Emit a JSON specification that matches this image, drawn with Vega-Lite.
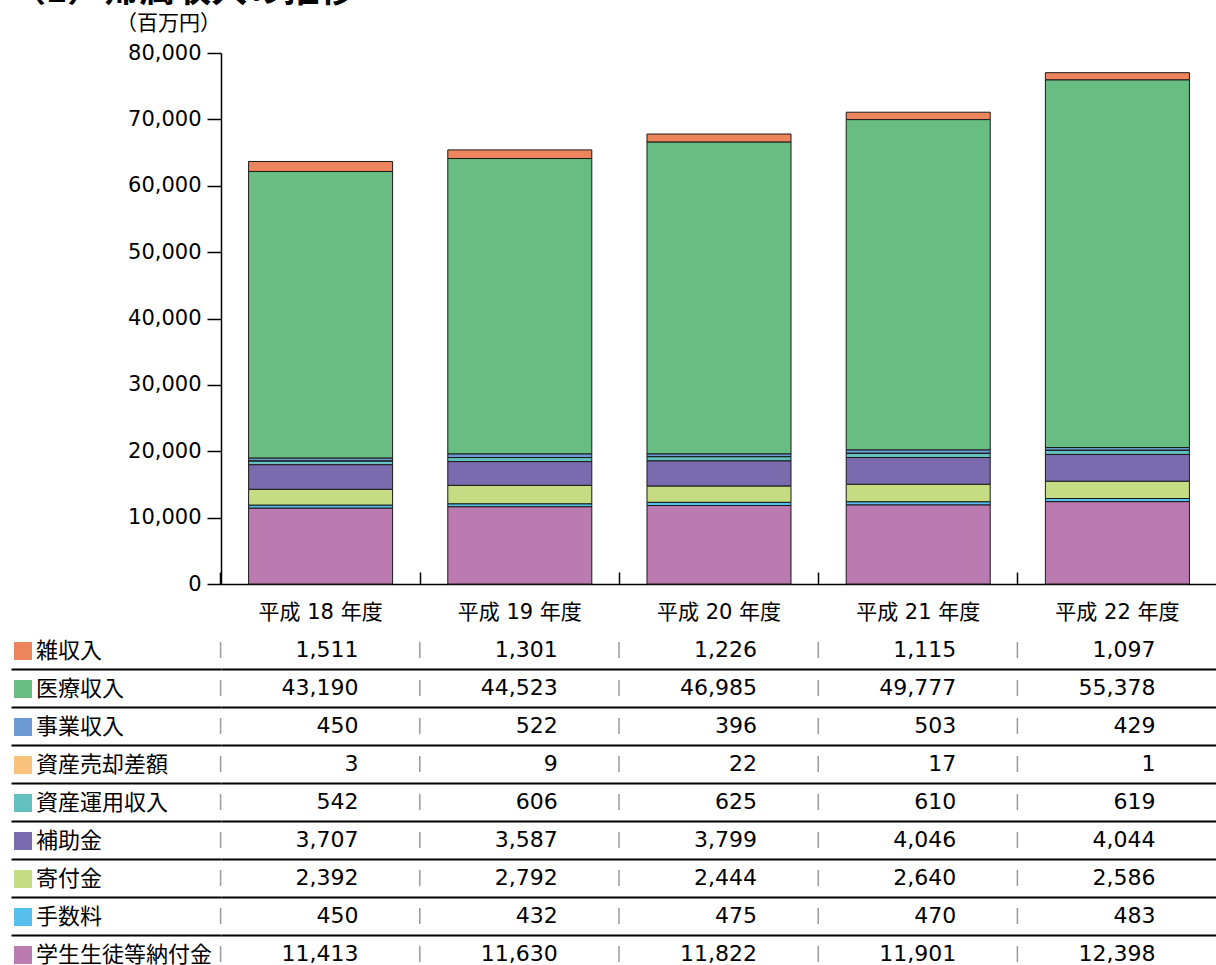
{
  "$schema": "https://vega.github.io/schema/vega-lite/v6.json",
  "background": "white",
  "padding": {"left": 10, "top": -27, "right": 0, "bottom": 0},
  "title": {
    "text": "（1）帰属収入の推移", "anchor": "start", "frame": "bounds",
    "font": "Noto Sans CJK JP", "fontSize": 36, "fontWeight": "bold", "color": "#000",
    "offset": 2
  },
  "config": {
    "font": "DejaVu Sans, Noto Sans CJK JP",
    "view": {"stroke": null},
    "concat": {"spacing": 9},
    "axis": {"labelColor": "#000", "titleColor": "#000", "labelFont": "DejaVu Sans, Noto Sans CJK JP", "titleFont": "Noto Sans CJK JP"}
  },
  "data": {
    "values": [
      {"year": "平成 18 年度", "cat": "雑収入", "rank": 9, "value": 1511},
      {"year": "平成 19 年度", "cat": "雑収入", "rank": 9, "value": 1301},
      {"year": "平成 20 年度", "cat": "雑収入", "rank": 9, "value": 1226},
      {"year": "平成 21 年度", "cat": "雑収入", "rank": 9, "value": 1115},
      {"year": "平成 22 年度", "cat": "雑収入", "rank": 9, "value": 1097},
      {"year": "平成 18 年度", "cat": "医療収入", "rank": 8, "value": 43190},
      {"year": "平成 19 年度", "cat": "医療収入", "rank": 8, "value": 44523},
      {"year": "平成 20 年度", "cat": "医療収入", "rank": 8, "value": 46985},
      {"year": "平成 21 年度", "cat": "医療収入", "rank": 8, "value": 49777},
      {"year": "平成 22 年度", "cat": "医療収入", "rank": 8, "value": 55378},
      {"year": "平成 18 年度", "cat": "事業収入", "rank": 7, "value": 450},
      {"year": "平成 19 年度", "cat": "事業収入", "rank": 7, "value": 522},
      {"year": "平成 20 年度", "cat": "事業収入", "rank": 7, "value": 396},
      {"year": "平成 21 年度", "cat": "事業収入", "rank": 7, "value": 503},
      {"year": "平成 22 年度", "cat": "事業収入", "rank": 7, "value": 429},
      {"year": "平成 18 年度", "cat": "資産売却差額", "rank": 6, "value": 3},
      {"year": "平成 19 年度", "cat": "資産売却差額", "rank": 6, "value": 9},
      {"year": "平成 20 年度", "cat": "資産売却差額", "rank": 6, "value": 22},
      {"year": "平成 21 年度", "cat": "資産売却差額", "rank": 6, "value": 17},
      {"year": "平成 22 年度", "cat": "資産売却差額", "rank": 6, "value": 1},
      {"year": "平成 18 年度", "cat": "資産運用収入", "rank": 5, "value": 542},
      {"year": "平成 19 年度", "cat": "資産運用収入", "rank": 5, "value": 606},
      {"year": "平成 20 年度", "cat": "資産運用収入", "rank": 5, "value": 625},
      {"year": "平成 21 年度", "cat": "資産運用収入", "rank": 5, "value": 610},
      {"year": "平成 22 年度", "cat": "資産運用収入", "rank": 5, "value": 619},
      {"year": "平成 18 年度", "cat": "補助金", "rank": 4, "value": 3707},
      {"year": "平成 19 年度", "cat": "補助金", "rank": 4, "value": 3587},
      {"year": "平成 20 年度", "cat": "補助金", "rank": 4, "value": 3799},
      {"year": "平成 21 年度", "cat": "補助金", "rank": 4, "value": 4046},
      {"year": "平成 22 年度", "cat": "補助金", "rank": 4, "value": 4044},
      {"year": "平成 18 年度", "cat": "寄付金", "rank": 3, "value": 2392},
      {"year": "平成 19 年度", "cat": "寄付金", "rank": 3, "value": 2792},
      {"year": "平成 20 年度", "cat": "寄付金", "rank": 3, "value": 2444},
      {"year": "平成 21 年度", "cat": "寄付金", "rank": 3, "value": 2640},
      {"year": "平成 22 年度", "cat": "寄付金", "rank": 3, "value": 2586},
      {"year": "平成 18 年度", "cat": "手数料", "rank": 2, "value": 450},
      {"year": "平成 19 年度", "cat": "手数料", "rank": 2, "value": 432},
      {"year": "平成 20 年度", "cat": "手数料", "rank": 2, "value": 475},
      {"year": "平成 21 年度", "cat": "手数料", "rank": 2, "value": 470},
      {"year": "平成 22 年度", "cat": "手数料", "rank": 2, "value": 483},
      {"year": "平成 18 年度", "cat": "学生生徒等納付金", "rank": 1, "value": 11413},
      {"year": "平成 19 年度", "cat": "学生生徒等納付金", "rank": 1, "value": 11630},
      {"year": "平成 20 年度", "cat": "学生生徒等納付金", "rank": 1, "value": 11822},
      {"year": "平成 21 年度", "cat": "学生生徒等納付金", "rank": 1, "value": 11901},
      {"year": "平成 22 年度", "cat": "学生生徒等納付金", "rank": 1, "value": 12398}
    ]
  },
  "vconcat": [
    {
      "width": 996,
      "height": 531,
      "mark": {"type": "bar", "stroke": "#1a1a1a", "strokeWidth": 1},
      "encoding": {
        "x": {
          "field": "year", "type": "nominal", "sort": null,
          "scale": {"paddingInner": 0.277, "paddingOuter": 0.1385},
          "axis": {
            "title": null, "labelAngle": 0, "labelFontSize": 21, "labelPadding": 29,
            "tickSize": -12, "bandPosition": -0.1916,
            "domainColor": "#000", "domainWidth": 1.5, "tickColor": "#000", "tickWidth": 1.5
          }
        },
        "y": {
          "field": "value", "type": "quantitative", "stack": "zero",
          "scale": {"domain": [0, 80000], "nice": false},
          "axis": {
            "values": [0, 10000, 20000, 30000, 40000, 50000, 60000, 70000, 80000],
            "format": ",d", "grid": false, "tickSize": 14, "labelPadding": 6, "labelFontSize": 21,
            "domainColor": "#000", "domainWidth": 1.5, "tickColor": "#000", "tickWidth": 1.5,
            "title": "（百万円）", "titleAngle": 0, "titleFontSize": 21, "titleFontWeight": "normal",
            "titleX": -53, "titleY": -24, "titleAlign": "center", "titleBaseline": "alphabetic"
          }
        },
        "color": {
          "field": "cat", "type": "nominal",
          "scale": {
            "domain": ["雑収入", "医療収入", "事業収入", "資産売却差額", "資産運用収入", "補助金", "寄付金", "手数料", "学生生徒等納付金"],
            "range": ["#ee845c", "#67bd82", "#6b9bd2", "#f8c27a", "#62c0be", "#7a6baf", "#c5dc82", "#55c0ee", "#bb7ab0"]
          },
          "legend": {
            "orient": "none", "legendX": -209, "legendY": 587, "title": null,
            "symbolType": "square", "symbolSize": 324, "symbolStrokeWidth": 0, "symbolOpacity": 1,
            "labelFont": "Noto Sans CJK JP", "labelFontSize": 22, "labelOffset": 2, "labelColor": "#000", "rowPadding": 16, "labelLimit": 400
          }
        },
        "order": {"field": "rank", "type": "quantitative"}
      }
    },
    {
      "width": 996,
      "height": 342,
      "encoding": {
        "x": {
          "field": "year", "type": "nominal", "sort": null,
          "scale": {"paddingInner": 0.277, "paddingOuter": 0.1385},
          "axis": null
        },
        "y": {
          "field": "cat", "type": "nominal",
          "sort": ["雑収入", "医療収入", "事業収入", "資産売却差額", "資産運用収入", "補助金", "寄付金", "手数料", "学生生徒等納付金"],
          "scale": {"paddingInner": 0, "paddingOuter": 0},
          "axis": {
            "title": null, "labels": false, "domain": false,
            "ticks": true, "tickSize": 210, "tickColor": "#000", "tickWidth": 2,
            "grid": true, "gridColor": "#000", "gridWidth": 2, "bandPosition": 1
          }
        }
      },
      "layer": [
        {
          "mark": {"type": "text", "align": "right", "baseline": "middle", "dx": 38, "fontSize": 22, "color": "#000"},
          "encoding": {"text": {"field": "value", "type": "quantitative", "format": ","}}
        },
        {
          "mark": {"type": "tick", "orient": "vertical", "xOffset": -100, "color": "#999", "thickness": 1.5, "size": 16, "opacity": 1}
        }
      ]
    }
  ]
}
